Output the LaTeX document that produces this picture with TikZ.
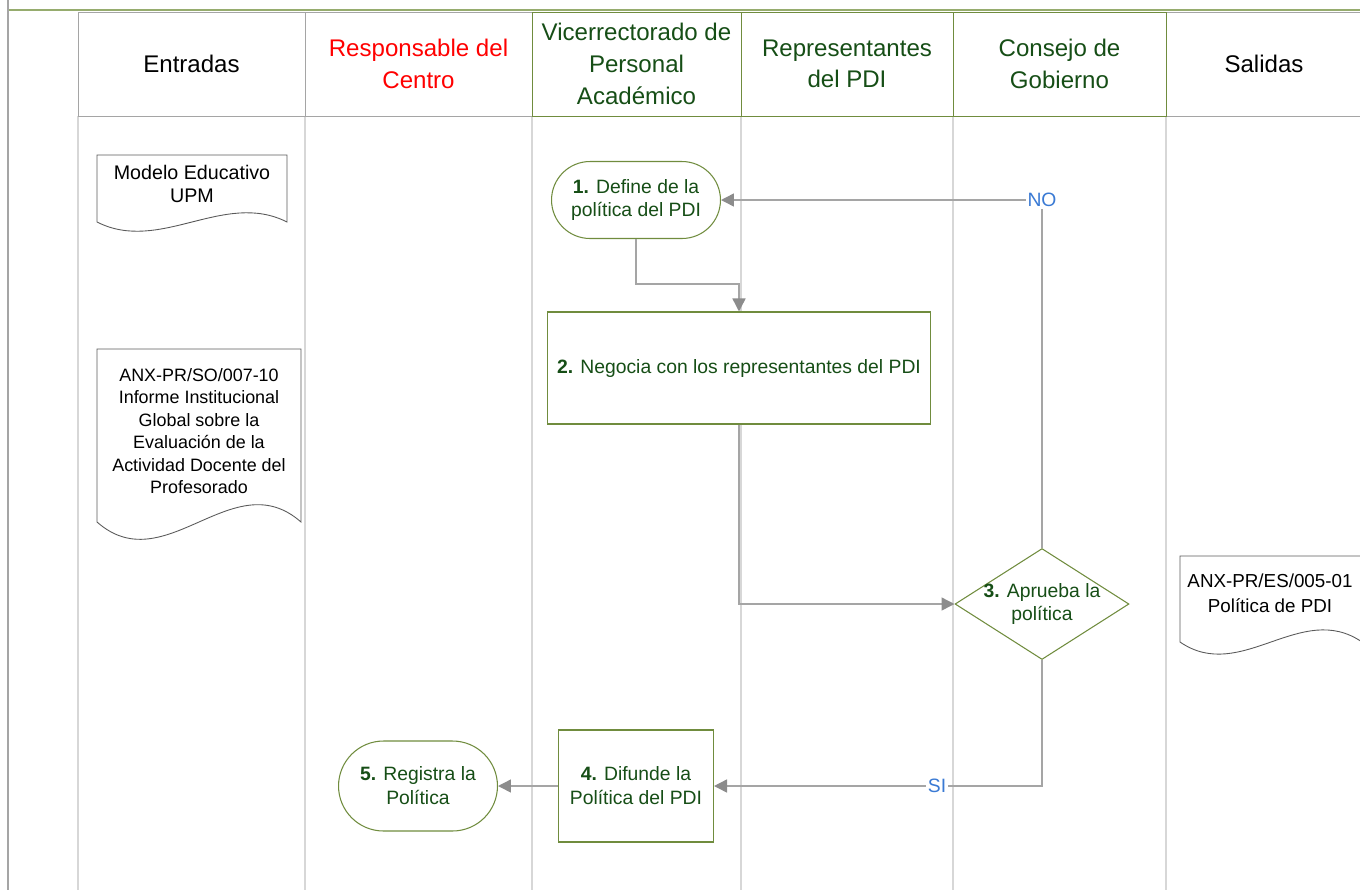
\documentclass[tikz,border=0pt]{standalone}
\usepackage{fontspec}
\setmainfont{Liberation Sans}
\usepackage{tikz}
\usetikzlibrary{positioning, shapes.geometric, shapes.misc, arrows.meta}
\definecolor{lanegray}{RGB}{215,215,215}
\definecolor{hdgray}{RGB}{165,165,165}
\definecolor{hdgreen}{RGB}{112,140,62}
\definecolor{boxgreen}{RGB}{112,140,62}
\definecolor{txtgreen}{RGB}{22,78,22}
\definecolor{linegray}{RGB}{165,165,165}
\definecolor{tipgray}{RGB}{140,140,140}
\definecolor{noblue}{RGB}{58,122,212}
\definecolor{framegreen}{RGB}{150,172,110}
\definecolor{docgray}{RGB}{90,90,90}

\begin{document}
\begin{tikzpicture}[
        x=0.02cm, y=-0.02cm,
        cell/.style={draw, minimum height=2.08cm, inner sep=2pt, outer sep=0pt,
          font=\fontsize{13.7}{18}\selectfont, align=center},
        lane/.style={draw=lanegray, line width=0.6pt},
        task/.style={draw=boxgreen, fill=white, text=txtgreen, line width=0.6pt,
          font=\fontsize{11}{13.6}\selectfont, align=center, inner sep=2pt},
        term/.style={task, rounded rectangle},
        decision/.style={diamond, draw=boxgreen, fill=white, line width=0.6pt, inner sep=0pt,
          minimum width=3.48cm, minimum height=2.22cm},
        doc/.style={draw=docgray, fill=white, line width=0.5pt},
        doctext/.style={font=\fontsize{10.2}{12.8}\selectfont, align=center, inner sep=0pt},
        flow/.style={draw=linegray, line width=0.85pt,
          -{Triangle[length=0.26cm, width=0.26cm, color=tipgray]}},
        cond/.style={fill=white, text=noblue, font=\fontsize{11}{13}\selectfont, inner sep=1pt}
      ]
      \useasboundingbox (0,0) rectangle (1360,890);

      % frame
      \draw[framegreen, line width=1.1pt] (8,10) -- (1360,10);
      \draw[hdgray, line width=0.6pt] (8,0) -- (8,890);

      % lanes
      \foreach \x in {78,305,532,741,953,1166}
        \draw[lane] (\x,116) -- (\x,890);

      % header
      \node[cell, draw=hdgray, minimum width=4.54cm] (entradas) at (191.5,64) {Entradas};
      \node[cell, draw=hdgray, minimum width=4.54cm, text=red] (resp) at (418.5,64) {Responsable del\\Centro};
      \node[cell, draw=hdgray, minimum width=3.92cm] (salidas) at (1264,64) {Salidas};
      \node[cell, draw=hdgreen, minimum width=4.18cm, text=txtgreen] (vice) at (636.5,64) {Vicerrectorado de\\Personal\\Académico};
      \node[cell, draw=hdgreen, minimum width=4.24cm, text=txtgreen] (repr) at (847,64) {Representantes\\del PDI};
      \node[cell, draw=hdgreen, minimum width=4.26cm, text=txtgreen] (consejo) at (1059.5,64) {Consejo de\\Gobierno};

      % entradas y salidas
      \draw[doc] (97,155) -- (287,155) -- (287,222)
        .. controls (224,190) and (160,254) .. (97,222) -- cycle;
      \node[doctext, font=\fontsize{11.2}{13.6}\selectfont] (modelo) at (192,184) {Modelo Educativo\\UPM};
      \draw[doc] (97,349) -- (301,349) -- (301,522)
        .. controls (233,462) and (165,582) .. (97,522) -- cycle;
      \node[doctext] (informe) at (199,431) {ANX-PR/SO/007-10\\Informe Institucional\\Global sobre la\\Evaluación de la\\Actividad Docente del\\Profesorado};
      \draw[doc] (1180,556) -- (1362,556) -- (1362,642)
        .. controls (1301,600) and (1241,684) .. (1180,642) -- cycle;
      \node[doctext, font=\fontsize{10.7}{14.2}\selectfont] (politica) at (1270,593) {ANX-PR/ES/005-01\\Política de PDI};

      % proceso
      \node[term, minimum width=3.52cm, minimum height=1.54cm] (p1) at (636,200) {\textbf{1.} Define de la\\política del PDI};
      \node[task, minimum width=7.68cm, minimum height=2.24cm] (p2) at (739,368) {\textbf{2.} Negocia con los representantes del PDI};
      \node[decision] (p3) at (1042,604) {};
      \node[text=txtgreen, font=\fontsize{11}{13.6}\selectfont, align=center] (p3text) at (p3) {\textbf{3.} Aprueba la\\política};
      \node[task, minimum width=3.1cm, minimum height=2.24cm] (p4) at (636,786) {\textbf{4.} Difunde la\\Política del PDI};
      \node[term, minimum width=3.32cm, minimum height=1.8cm] (p5) at (418,786) {\textbf{5.} Registra la\\Política};

      % conectores
      \draw[flow] (p1.south) -- ++(0,45) -| (p2.north);
      \draw[flow] (p2.south) |- (p3.west);
      \draw[flow] (p3.north) |- node[pos=0.5, cond] {NO} (p1.east);
      \draw[flow] (p3.south) |- node[pos=0.66, cond] {SI} (p4.east);
      \draw[flow] (p4.west) -- (p5.east);
      \end{tikzpicture}
\end{document}
